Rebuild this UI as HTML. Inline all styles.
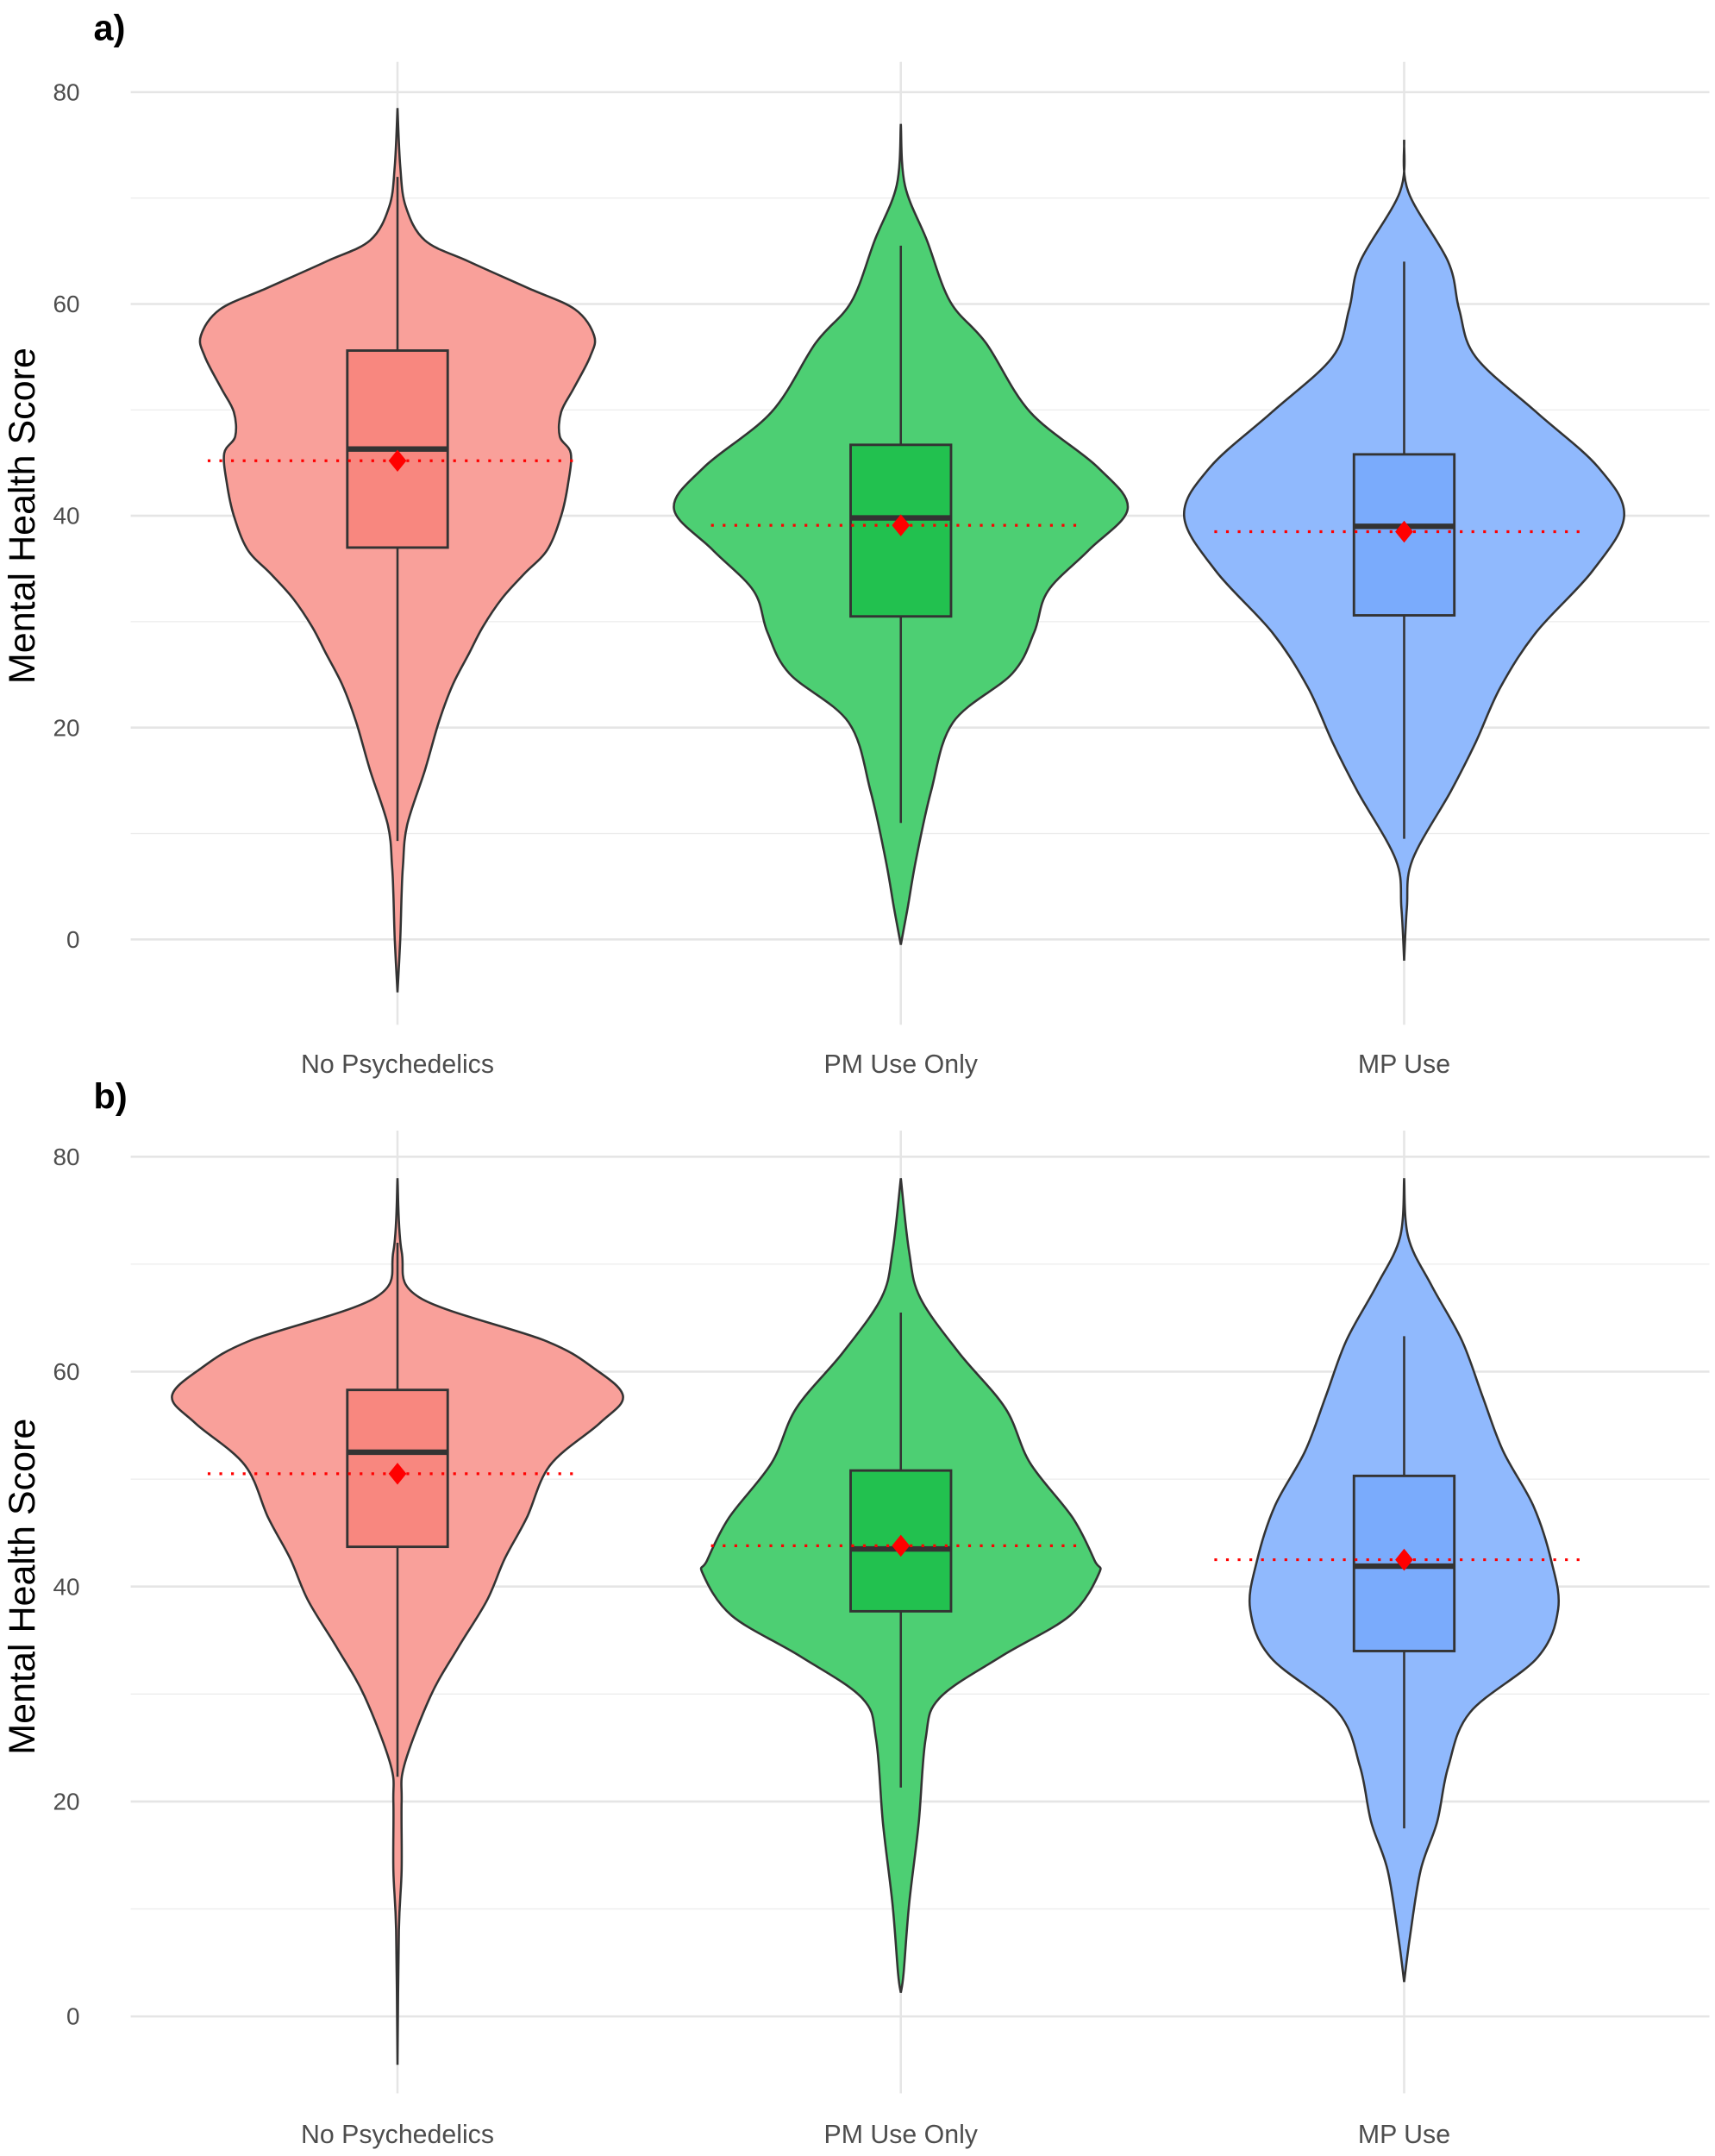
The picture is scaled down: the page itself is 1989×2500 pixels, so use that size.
<!DOCTYPE html>
<html><head><meta charset="utf-8"><style>
html,body{margin:0;padding:0;background:#fff}
svg{display:block}
text{font-family:"Liberation Sans",sans-serif}
</style></head><body>
<svg id="chart" width="1989" height="2500" viewBox="0 0 1247 1567.5" xmlns="http://www.w3.org/2000/svg">
<rect width="1247" height="1567.5" fill="#fff"/>
<g id="pa"></g>
<g id="pb"></g>
</svg>
<script>
const categories = ["No Psychedelics","PM Use Only","MP Use"];
const yTicks = [0,20,40,60,80];
const yTickLabels = ["0","20","40","60","80"];
// violin densities: [score, half-width density]
const aNoY = [78.5,73,69.2,66,64,61.5,59.5,57,55,52,49.8,47.5,45.9,43,40,36.8,34.5,32.2,29.5,27,24,20.5,16,10.8,7,4.3,0,-5];
const aNoD = [0,2,6,20,52,95,129,143,140,128,119,118,126,124,119,109,92,76,62,52,40,30,20,7,4,3,2,0];
const aPmY = [77,71.2,66,60.2,56.3,49.8,44.6,40.7,36.8,32.9,29,25.1,20.5,14,7.5,3,-0.5];
const aPmD = [0,3,19,36,62,94,143,165,137,107,97,81,38,22,11,5,0];
const aMpY = [75.5,70.6,64,59.5,55,49.8,44.6,40,34.8,29,23.8,18.6,14,7.5,3,-2];
const aMpD = [0,3,32,40,52,96,141,160,137,96,70,52,34,6,2,0];
const bNoY = [78,71.2,66.9,62.9,60.3,57.7,55.2,51.3,46.4,42.6,38.7,34.3,29.8,23.4,20,13.6,8,-4.5];
const bNoD = [0,3,16,107,143,164,147,111,94,78,65,44,24,5,3,3,1,0];
const bPmY = [78,71.2,66.9,61.8,56.6,51.5,46.4,42.4,41.2,37.3,33.5,29.6,25.8,18,10.4,4,2.2];
const bPmD = [0,6,14,42,76,94,125,141,144,123,73,28,18,13,6,2,0];
const bMpY = [78,72.5,68,62.9,57.7,52.6,47.5,42.4,37.9,33.4,28.3,23.2,18.1,13.6,7.2,3.2];
const bMpD = [0,3,20,42,57,72,94,107,112,97,48,32,24,12,4,0];
// box stats: [whiskerLow, Q1, median, Q3, whiskerHigh]
const aBoxes = [[9.3,37,46.3,55.6,72],[11,30.5,39.8,46.7,65.5],[9.5,30.6,39,45.8,64]];
const bBoxes = [[22.3,43.7,52.5,58.3,72],[21.3,37.7,43.5,50.8,65.5],[17.5,34,41.9,50.3,63.3]];
const aMeans = [45.2,39.1,38.5];
const bMeans = [50.5,43.8,42.5];

const NS="http://www.w3.org/2000/svg";
const fills=["#f9a09a","#4dcf73","#90b9fd"];
const boxFills=["#f8877f","#22c14f","#7aabfc"];
function mk(tag,attrs,parent){const e=document.createElementNS(NS,tag);for(const k in attrs)e.setAttribute(k,attrs[k]);parent.appendChild(e);return e;}
function smooth(pts){let d="M"+pts[0][0]+","+pts[0][1];for(let i=0;i<pts.length-1;i++){const p0=pts[Math.max(0,i-1)],p1=pts[i],p2=pts[i+1],p3=pts[Math.min(pts.length-1,i+2)];const c1=[p1[0]+(p2[0]-p0[0])/6,p1[1]+(p2[1]-p0[1])/6],c2=[p2[0]-(p3[0]-p1[0])/6,p2[1]-(p3[1]-p1[1])/6];d+=" C"+c1[0].toFixed(2)+","+c1[1].toFixed(2)+" "+c2[0].toFixed(2)+","+c2[1].toFixed(2)+" "+p2[0].toFixed(2)+","+p2[1].toFixed(2);}return d;}

function panel(g,cfg){
  const {y0,y80,top,bottom,label,labelY,xLabY,vY,vD,boxes,means}=cfg;
  const ys=v=>y0+(y80-y0)*v/80;
  const xs=i=>289+366*i;
  const left=95,right=1243;
  for(let v=10;v<=70;v+=20){const l=mk("line",{x1:left,x2:right,y1:ys(v),y2:ys(v),stroke:"#ececec","stroke-width":0.8},g);}
  yTicks.forEach((v,i)=>{const l=mk("line",{x1:left,x2:right,y1:ys(v),y2:ys(v),stroke:"#e5e5e5","stroke-width":1.6},g);
    const t=mk("text",{x:58,y:ys(v)+6,"text-anchor":"end","font-size":17.5,fill:"#4d4d4d"},g);t.textContent=yTickLabels[i];});
  categories.forEach((c,i)=>{const l=mk("line",{x1:xs(i),x2:xs(i),y1:top,y2:bottom,stroke:"#e5e5e5","stroke-width":1.6},g);});
  const yt=mk("text",{x:0,y:0,transform:`translate(25,${(ys(0)+ys(80))/2}) rotate(-90)`,"text-anchor":"middle","font-size":27,fill:"#000"},g);yt.textContent="Mental Health Score";
  const pl=mk("text",{x:68,y:labelY,"font-size":26,"font-weight":"bold",fill:"#000"},g);pl.textContent=label;
  categories.forEach((c,i)=>{
    const cx=xs(i);
    const R=vY[i].map((v,k)=>[cx+vD[i][k],ys(v)]);
    const L=vY[i].map((v,k)=>[cx-vD[i][k],ys(v)]).reverse();
    let d=smooth(R)+" L"+smooth(L).slice(1)+" Z";
    const vp=mk("path",{d:d,fill:fills[i],stroke:"#333","stroke-width":1.6},g);
    
    const b=boxes[i];
    const w=mk("line",{x1:cx,x2:cx,y1:ys(b[0]),y2:ys(b[4]),stroke:"#333","stroke-width":1.6},g);
    
    const r=mk("rect",{x:cx-36.5,width:73,y:ys(b[3]),height:ys(b[1])-ys(b[3]),fill:boxFills[i],stroke:"#333","stroke-width":1.8},g);
    
    const m=mk("line",{x1:cx-36.5,x2:cx+36.5,y1:ys(b[2]),y2:ys(b[2]),stroke:"#333","stroke-width":4},g);
    
    const ml=mk("line",{x1:cx-138,x2:cx+134,y1:ys(means[i]),y2:ys(means[i]),stroke:"#ff0000","stroke-width":2,"stroke-dasharray":"2,6.5"},g);
    
    const my=ys(means[i]);
    const dm=mk("polygon",{points:`${cx},${my-8} ${cx+6.5},${my} ${cx},${my+8} ${cx-6.5},${my}`,fill:"#ff0000"},g);
    
    const xl=mk("text",{x:cx,y:xLabY,"text-anchor":"middle","font-size":19,fill:"#4d4d4d"},g);xl.textContent=c;
    
  });
}
panel(document.getElementById('pa'),{y0:683,y80:67,top:45,bottom:745,label:"a)",labelY:29,xLabY:780,vY:[aNoY,aPmY,aMpY],vD:[aNoD,aPmD,aMpD],boxes:aBoxes,means:aMeans});
panel(document.getElementById('pb'),{y0:1466,y80:841,top:822,bottom:1522,label:"b)",labelY:806,xLabY:1558,vY:[bNoY,bPmY,bMpY],vD:[bNoD,bPmD,bMpD],boxes:bBoxes,means:bMeans});
</script>
</body></html>
